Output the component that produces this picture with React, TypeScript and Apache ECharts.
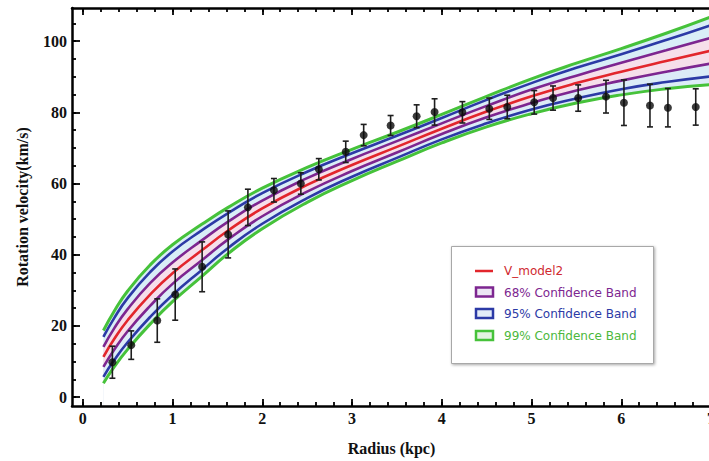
import React, { useEffect, useRef } from "react";
import * as echarts from "echarts";

// ---- model curves ----
const curveR = [0.23, 0.35, 0.5, 0.75, 1.0, 1.33, 1.62, 2.0, 2.5, 3.0, 3.5, 4.0, 4.5, 5.0, 5.5, 6.0, 6.5, 7.0];
const vModel = [11.3, 16.3, 21.6, 28.8, 34.8, 41.3, 46.8, 53.0, 59.6, 65.2, 70.3, 75.4, 80.2, 84.5, 88.2, 91.4, 94.4, 97.3];
const upper68 = [14.1, 19.3, 24.7, 32.0, 37.8, 44.1, 49.3, 55.2, 61.5, 66.9, 71.9, 76.9, 81.8, 86.4, 90.3, 93.9, 97.4, 100.9];
const lower68 = [8.5, 13.3, 18.5, 25.6, 31.8, 38.5, 44.3, 50.8, 57.7, 63.5, 68.7, 73.9, 78.6, 82.6, 86.1, 88.9, 91.4, 93.7];
const upper95 = [16.9, 22.2, 27.8, 35.1, 40.9, 46.9, 51.7, 57.3, 63.3, 68.5, 73.4, 78.4, 83.5, 88.2, 92.5, 96.3, 100.3, 104.5];
const lower95 = [5.7, 10.4, 15.4, 22.5, 28.7, 35.8, 41.9, 48.7, 55.9, 61.9, 67.2, 72.4, 76.9, 80.8, 83.9, 86.5, 88.5, 90.1];
const upper99 = [18.7, 24.1, 29.8, 37.1, 42.8, 48.6, 53.3, 58.7, 64.5, 69.6, 74.4, 79.4, 84.5, 89.4, 93.8, 97.9, 102.2, 106.8];
const lower99 = [3.9, 8.5, 13.4, 20.5, 26.8, 34.0, 40.3, 47.3, 54.7, 60.8, 66.2, 71.4, 75.9, 79.6, 82.6, 84.9, 86.6, 87.8];

// ---- observed rotation velocities ----
const obsR = [0.33, 0.54, 0.83, 1.03, 1.33, 1.62, 1.84, 2.13, 2.43, 2.63, 2.93, 3.13, 3.43, 3.72, 3.92, 4.23, 4.53, 4.73, 5.03, 5.24, 5.52, 5.83, 6.03, 6.32, 6.52, 6.83];
const obsV = [9.8, 14.6, 21.5, 28.8, 36.6, 45.7, 53.3, 58.1, 60.0, 64.0, 68.9, 73.6, 76.3, 78.9, 80.1, 80.0, 81.0, 81.5, 82.8, 84.0, 84.0, 84.4, 82.7, 81.9, 81.3, 81.5];
const obsErr = [4.5, 4.0, 6.1, 7.2, 7.0, 6.6, 5.1, 3.3, 3.0, 3.0, 3.0, 3.0, 2.8, 3.2, 3.7, 3.0, 3.0, 3.3, 3.3, 3.4, 3.7, 4.6, 6.4, 6.0, 5.4, 5.1];

// ---- ticks ----
const xMajorTicks = [0, 1, 2, 3, 4, 5, 6, 7];
const xMinorTicks = [0, 0.2, 0.4, 0.6, 0.8, 1, 1.2, 1.4, 1.6, 1.8, 2, 2.2, 2.4, 2.6, 2.8, 3, 3.2, 3.4, 3.6, 3.8, 4, 4.2, 4.4, 4.6, 4.8, 5, 5.2, 5.4, 5.6, 5.8, 6, 6.2, 6.4, 6.6, 6.8, 7];
const yMajorTicks = [0, 20, 40, 60, 80, 100];
const yMinorTicks = [0, 5, 10, 15, 20, 25, 30, 35, 40, 45, 50, 55, 60, 65, 70, 75, 80, 85, 90, 95, 100, 105];

const legendItems = ["V_model2", "68% Confidence Band", "95% Confidence Band", "99% Confidence Band"];

const RED = "#e2262c";
const PURPLE = "#7d2690";
const BLUE = "#2c3aa6";
const GREEN = "#46c23a";

const SERIF = "'Liberation Serif', 'Times New Roman', serif";
const SANS = "'DejaVu Sans', Verdana, sans-serif";

export default function App() {
  const ref = useRef<HTMLDivElement>(null);

  useEffect(() => {
    if (!ref.current) return;
    const chart = echarts.init(ref.current, undefined, { renderer: "svg" });
    const pairs = (arr: number[]) => curveR.map((r, i) => [r, arr[i]]);

    const areaSeries = (arr: number[], color: string, z: number) => ({
      type: "line",
      data: pairs(arr),
      smooth: true,
      symbol: "none",
      silent: true,
      lineStyle: { width: 0, opacity: 0 },
      areaStyle: { color, opacity: 1, origin: "start" },
      z,
    });
    const lineSeries = (name: string, arr: number[], color: string, width: number) => ({
      name,
      type: "line",
      data: pairs(arr),
      smooth: true,
      symbol: "none",
      silent: true,
      lineStyle: { color, width },
      z: 6,
    });

    const tickAxisBase = {
      type: "value",
      min: -0.12,
      max: 7,
      splitLine: { show: false },
    };

    const option: any = {
      animation: false,
      backgroundColor: "#ffffff",
      textStyle: { fontFamily: SERIF },
      grid: { left: 72, top: 8, right: -2, bottom: 55, containLabel: false, outerBoundsMode: "none" },
      xAxis: [
        {
          ...tickAxisBase,
          position: "bottom",
          z: 10,
          name: "Radius (kpc)",
          nameLocation: "middle",
          nameGap: 34,
          nameTextStyle: { fontFamily: SERIF, fontWeight: "bold", fontSize: 16, color: "#111" },
          axisLine: { show: true, onZero: false, lineStyle: { color: "#000", width: 2.5 } },
          axisTick: { show: true, inside: true, length: 7, customValues: xMajorTicks, lineStyle: { color: "#000", width: 1.8 } },
          axisLabel: { show: true, customValues: xMajorTicks, margin: 4, fontFamily: SERIF, fontWeight: "bold", fontSize: 16, color: "#111" },
        },
        {
          ...tickAxisBase,
          position: "bottom",
          z: 10,
          axisLine: { show: false, onZero: false },
          axisTick: { show: true, inside: true, length: 4, customValues: xMinorTicks, lineStyle: { color: "#000", width: 1.8 } },
          axisLabel: { show: false },
        },
        {
          ...tickAxisBase,
          position: "top",
          z: 10,
          axisLine: { show: true, onZero: false, lineStyle: { color: "#000", width: 2.5 } },
          axisTick: { show: true, inside: true, length: 7, customValues: xMajorTicks, lineStyle: { color: "#000", width: 1.8 } },
          axisLabel: { show: false },
        },
        {
          ...tickAxisBase,
          position: "top",
          z: 10,
          axisLine: { show: false, onZero: false },
          axisTick: { show: true, inside: true, length: 4, customValues: xMinorTicks, lineStyle: { color: "#000", width: 1.8 } },
          axisLabel: { show: false },
        },
      ],
      yAxis: [
        {
          type: "value",
          min: -2.5,
          max: 109.3,
          position: "left",
          z: 10,
          splitLine: { show: false },
          name: "Rotation velocity(km/s)",
          nameLocation: "middle",
          nameGap: 42,
          nameRotate: 90,
          nameTextStyle: { fontFamily: SERIF, fontWeight: "bold", fontSize: 16, color: "#111" },
          axisLine: { show: true, onZero: false, lineStyle: { color: "#000", width: 2.5 } },
          axisTick: { show: true, inside: true, length: 8, customValues: yMajorTicks, lineStyle: { color: "#000", width: 1.8 } },
          axisLabel: { show: true, customValues: yMajorTicks, margin: 5, fontFamily: SERIF, fontWeight: "bold", fontSize: 16, color: "#111" },
        },
        {
          type: "value",
          min: -2.5,
          max: 109.3,
          position: "left",
          z: 10,
          splitLine: { show: false },
          axisLine: { show: false, onZero: false },
          axisTick: { show: true, inside: true, length: 4, customValues: yMinorTicks, lineStyle: { color: "#000", width: 1.8 } },
          axisLabel: { show: false },
        },
      ],
      series: [
        areaSeries(upper99, "#d9eef7", 1),
        areaSeries(upper68, "#f6dfea", 2),
        areaSeries(lower68, "#dcecf7", 3),
        areaSeries(lower99, "#ffffff", 4),
        lineSeries("99% Confidence Band", upper99, GREEN, 3),
        lineSeries("99% Confidence Band ", lower99, GREEN, 3),
        lineSeries("95% Confidence Band", upper95, BLUE, 2.6),
        lineSeries("95% Confidence Band ", lower95, BLUE, 2.6),
        lineSeries("68% Confidence Band", upper68, PURPLE, 2.6),
        lineSeries("68% Confidence Band ", lower68, PURPLE, 2.6),
        lineSeries("V_model2", vModel, RED, 2.6),
        {
          type: "custom",
          name: "error",
          silent: true,
          z: 8,
          data: obsR.map((r, i) => [r, obsV[i], obsErr[i]]),
          encode: { x: 0, y: 1 },
          renderItem: (params: any, api: any) => {
            const x = api.value(0);
            const y = api.value(1);
            const e = api.value(2);
            const top = api.coord([x, y + e]);
            const bot = api.coord([x, y - e]);
            const st = { stroke: "#1e1e1e", lineWidth: 1.6 };
            return {
              type: "group",
              children: [
                { type: "line", shape: { x1: top[0], y1: top[1], x2: bot[0], y2: bot[1] }, style: st },
                { type: "line", shape: { x1: top[0] - 3, y1: top[1], x2: top[0] + 3, y2: top[1] }, style: st },
                { type: "line", shape: { x1: bot[0] - 3, y1: bot[1], x2: bot[0] + 3, y2: bot[1] }, style: st },
              ],
            };
          },
        },
        {
          type: "scatter",
          name: "data",
          silent: true,
          z: 9,
          symbol: "circle",
          symbolSize: 8,
          itemStyle: { color: "#0a0a0a" },
          data: obsR.map((r, i) => [r, obsV[i]]),
        },
      ],
      graphic: [
        {
          type: "rect",
          left: 451,
          top: 246,
          z: 20,
          shape: { width: 202, height: 117 },
          style: {
            fill: "#ffffff",
            stroke: "#a8a8a8",
            lineWidth: 1,
            shadowBlur: 3,
            shadowColor: "rgba(0,0,0,0.35)",
            shadowOffsetX: 1,
            shadowOffsetY: 1,
          },
        },
        {
          type: "line",
          z: 21,
          shape: { x1: 475, y1: 271, x2: 493, y2: 271 },
          style: { stroke: RED, lineWidth: 2.5 },
        },
        {
          type: "rect",
          z: 21,
          shape: { x: 476, y: 287.5, width: 17, height: 9 },
          style: { fill: "#ece6f4", stroke: PURPLE, lineWidth: 2.5 },
        },
        {
          type: "rect",
          z: 21,
          shape: { x: 476, y: 309, width: 17, height: 9 },
          style: { fill: "#e3ecf8", stroke: BLUE, lineWidth: 2.5 },
        },
        {
          type: "rect",
          z: 21,
          shape: { x: 476, y: 331, width: 17, height: 9 },
          style: { fill: "#e4f3e2", stroke: GREEN, lineWidth: 2.5 },
        },
        {
          type: "text",
          z: 21,
          x: 504,
          y: 271,
          style: { text: legendItems[0], fill: "#d02a30", font: `12px ${SANS}`, verticalAlign: "middle" },
        },
        {
          type: "text",
          z: 21,
          x: 504,
          y: 292.5,
          style: { text: legendItems[1], fill: PURPLE, font: `12px ${SANS}`, verticalAlign: "middle" },
        },
        {
          type: "text",
          z: 21,
          x: 504,
          y: 314,
          style: { text: legendItems[2], fill: BLUE, font: `12px ${SANS}`, verticalAlign: "middle" },
        },
        {
          type: "text",
          z: 21,
          x: 504,
          y: 336,
          style: { text: legendItems[3], fill: "#4cb83c", font: `12px ${SANS}`, verticalAlign: "middle" },
        },
      ],
    };

    chart.setOption(option);
    return () => chart.dispose();
  }, []);

  return <div ref={ref} style={{ width: 709, height: 461, position: "absolute", left: 0, top: 0 }} />;
}
